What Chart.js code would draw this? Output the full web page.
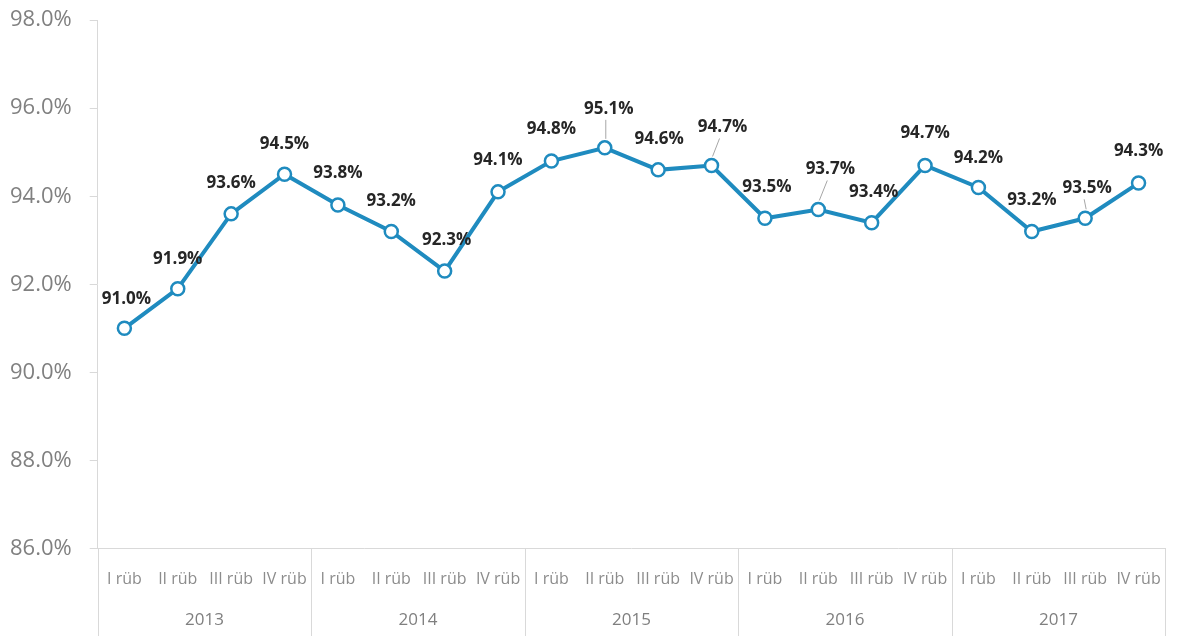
<!DOCTYPE html>
<html>
<head>
<meta charset="utf-8">
<script src="https://cdn.jsdelivr.net/npm/chart.js@4"></script>
<style>
  html, body { margin: 0; padding: 0; background: #fff; }
  #wrap { width: 1182px; height: 636px; }
</style>
</head>
<body>
<div id="wrap"><canvas id="lineChart"></canvas></div>
<script>
// data
var quarters = ['I rüb', 'II rüb', 'III rüb', 'IV rüb'];
var years = ['2013', '2014', '2015', '2016', '2017'];
var values = [91.0, 91.9, 93.6, 94.5, 93.8, 93.2, 92.3, 94.1, 94.8, 95.1,
              94.6, 94.7, 93.5, 93.7, 93.4, 94.7, 94.2, 93.2, 93.5, 94.3];
var yTicks = [86, 88, 90, 92, 94, 96, 98];

// label placement (dx, dy from point); leaders = labels with a connector line
var labelOffsets = [[2, -29], [0, -30], [0, -31], [0, -30], [0, -32], [0, -30], [2, -31], [0, -32], [0, -32], [4, -39],
                    [1, -31], [11, -38], [2, -31], [12, -40], [2, -31], [0, -32], [0, -29], [0, -31], [2, -30], [0, -32]];
var leaders = [9, 11, 13, 18];

var labels = [];
years.forEach(function (y) {
  quarters.forEach(function (q) { labels.push(q); });
});

var blue = '#1f8bbf';
var gridGray = '#d9d9d9';
var fontFamily = '"Open Sans", "Noto Sans", sans-serif';

var yearAxisPlugin = {
  id: 'yearAxis',
  afterDraw: function (chart) {
    var ctx = chart.ctx;
    var x = chart.scales.x;
    var area = chart.chartArea;
    var step = x.getPixelForValue(1) - x.getPixelForValue(0);
    ctx.save();
    ctx.strokeStyle = gridGray;
    ctx.lineWidth = 1;
    for (var i = 0; i <= years.length; i++) {
      var px = Math.round(x.getPixelForValue(i * 4) - step / 2) + 0.5;
      ctx.beginPath();
      ctx.moveTo(px, area.bottom);
      ctx.lineTo(px, chart.height);
      ctx.stroke();
    }
    ctx.restore();
  }
};

var dataLabelPlugin = {
  id: 'pointLabels',
  afterDatasetsDraw: function (chart) {
    var ctx = chart.ctx;
    var meta = chart.getDatasetMeta(0);
    ctx.save();
    ctx.font = 'bold 17px ' + fontFamily;
    ctx.fillStyle = '#262626';
    ctx.textAlign = 'center';
    ctx.textBaseline = 'middle';
    meta.data.forEach(function (pt, i) {
      var off = labelOffsets[i];
      var lx = pt.x + off[0];
      var ly = pt.y + off[1];
      if (leaders.indexOf(i) >= 0) {
        ctx.strokeStyle = '#a6a6a6';
        ctx.lineWidth = 1;
        ctx.beginPath();
        ctx.moveTo(lx - 3, ly + 11);
        ctx.lineTo(pt.x + 1, pt.y - 9);
        ctx.stroke();
      }
      ctx.fillText(values[i].toFixed(1) + '%', lx, ly);
    });
    ctx.restore();
  }
};

var ctx = document.getElementById('lineChart').getContext('2d');
var lineChart = new Chart(ctx, {
  type: 'line',
  data: {
    labels: labels,
    datasets: [{
      data: values,
      borderColor: blue,
      borderWidth: 4,
      pointRadius: 6.5,
      pointHoverRadius: 6.5,
      pointBorderWidth: 2.5,
      pointBackgroundColor: '#ffffff',
      pointBorderColor: blue,
      tension: 0,
      fill: false
    }]
  },
  options: {
    responsive: true,
    maintainAspectRatio: false,
    animation: false,
    layout: { autoPadding: false, padding: { top: 16, right: 12, left: -8, bottom: 6 } },
    plugins: {
      legend: { display: false },
      tooltip: { enabled: false }
    },
    scales: {
      x: {
        type: 'category',
        offset: true,
        grid: { display: true, color: 'rgba(0,0,0,0)', drawTicks: false },
        border: { display: true, color: gridGray, width: 1 },
        ticks: {
          color: '#8c8c8c',
          font: { family: fontFamily, size: 16 },
          padding: 21,
          autoSkip: false,
          maxRotation: 0,
          minRotation: 0
        }
      },
      years: {
        type: 'category',
        labels: years,
        position: 'bottom',
        offset: true,
        grid: { display: false, drawTicks: false },
        border: { display: false },
        ticks: {
          color: '#7f7f7f',
          font: { family: fontFamily, size: 17 },
          padding: 0,
          maxRotation: 0
        }
      },
      y: {
        min: 86,
        max: 98,
        afterBuildTicks: function (axis) {
          axis.ticks = yTicks.map(function (v) { return { value: v }; });
        },
        grid: {
          display: true,
          drawOnChartArea: false,
          drawTicks: true,
          tickLength: 8,
          color: gridGray
        },
        border: { display: true, color: gridGray, width: 1 },
        ticks: {
          color: '#808080',
          font: { family: fontFamily, size: 22, lineHeight: 0.2 },
          padding: 18,
          callback: function (v) { return v.toFixed(1) + '%'; }
        }
      }
    }
  },
  plugins: [yearAxisPlugin, dataLabelPlugin]
});
</script>
</body>
</html>
